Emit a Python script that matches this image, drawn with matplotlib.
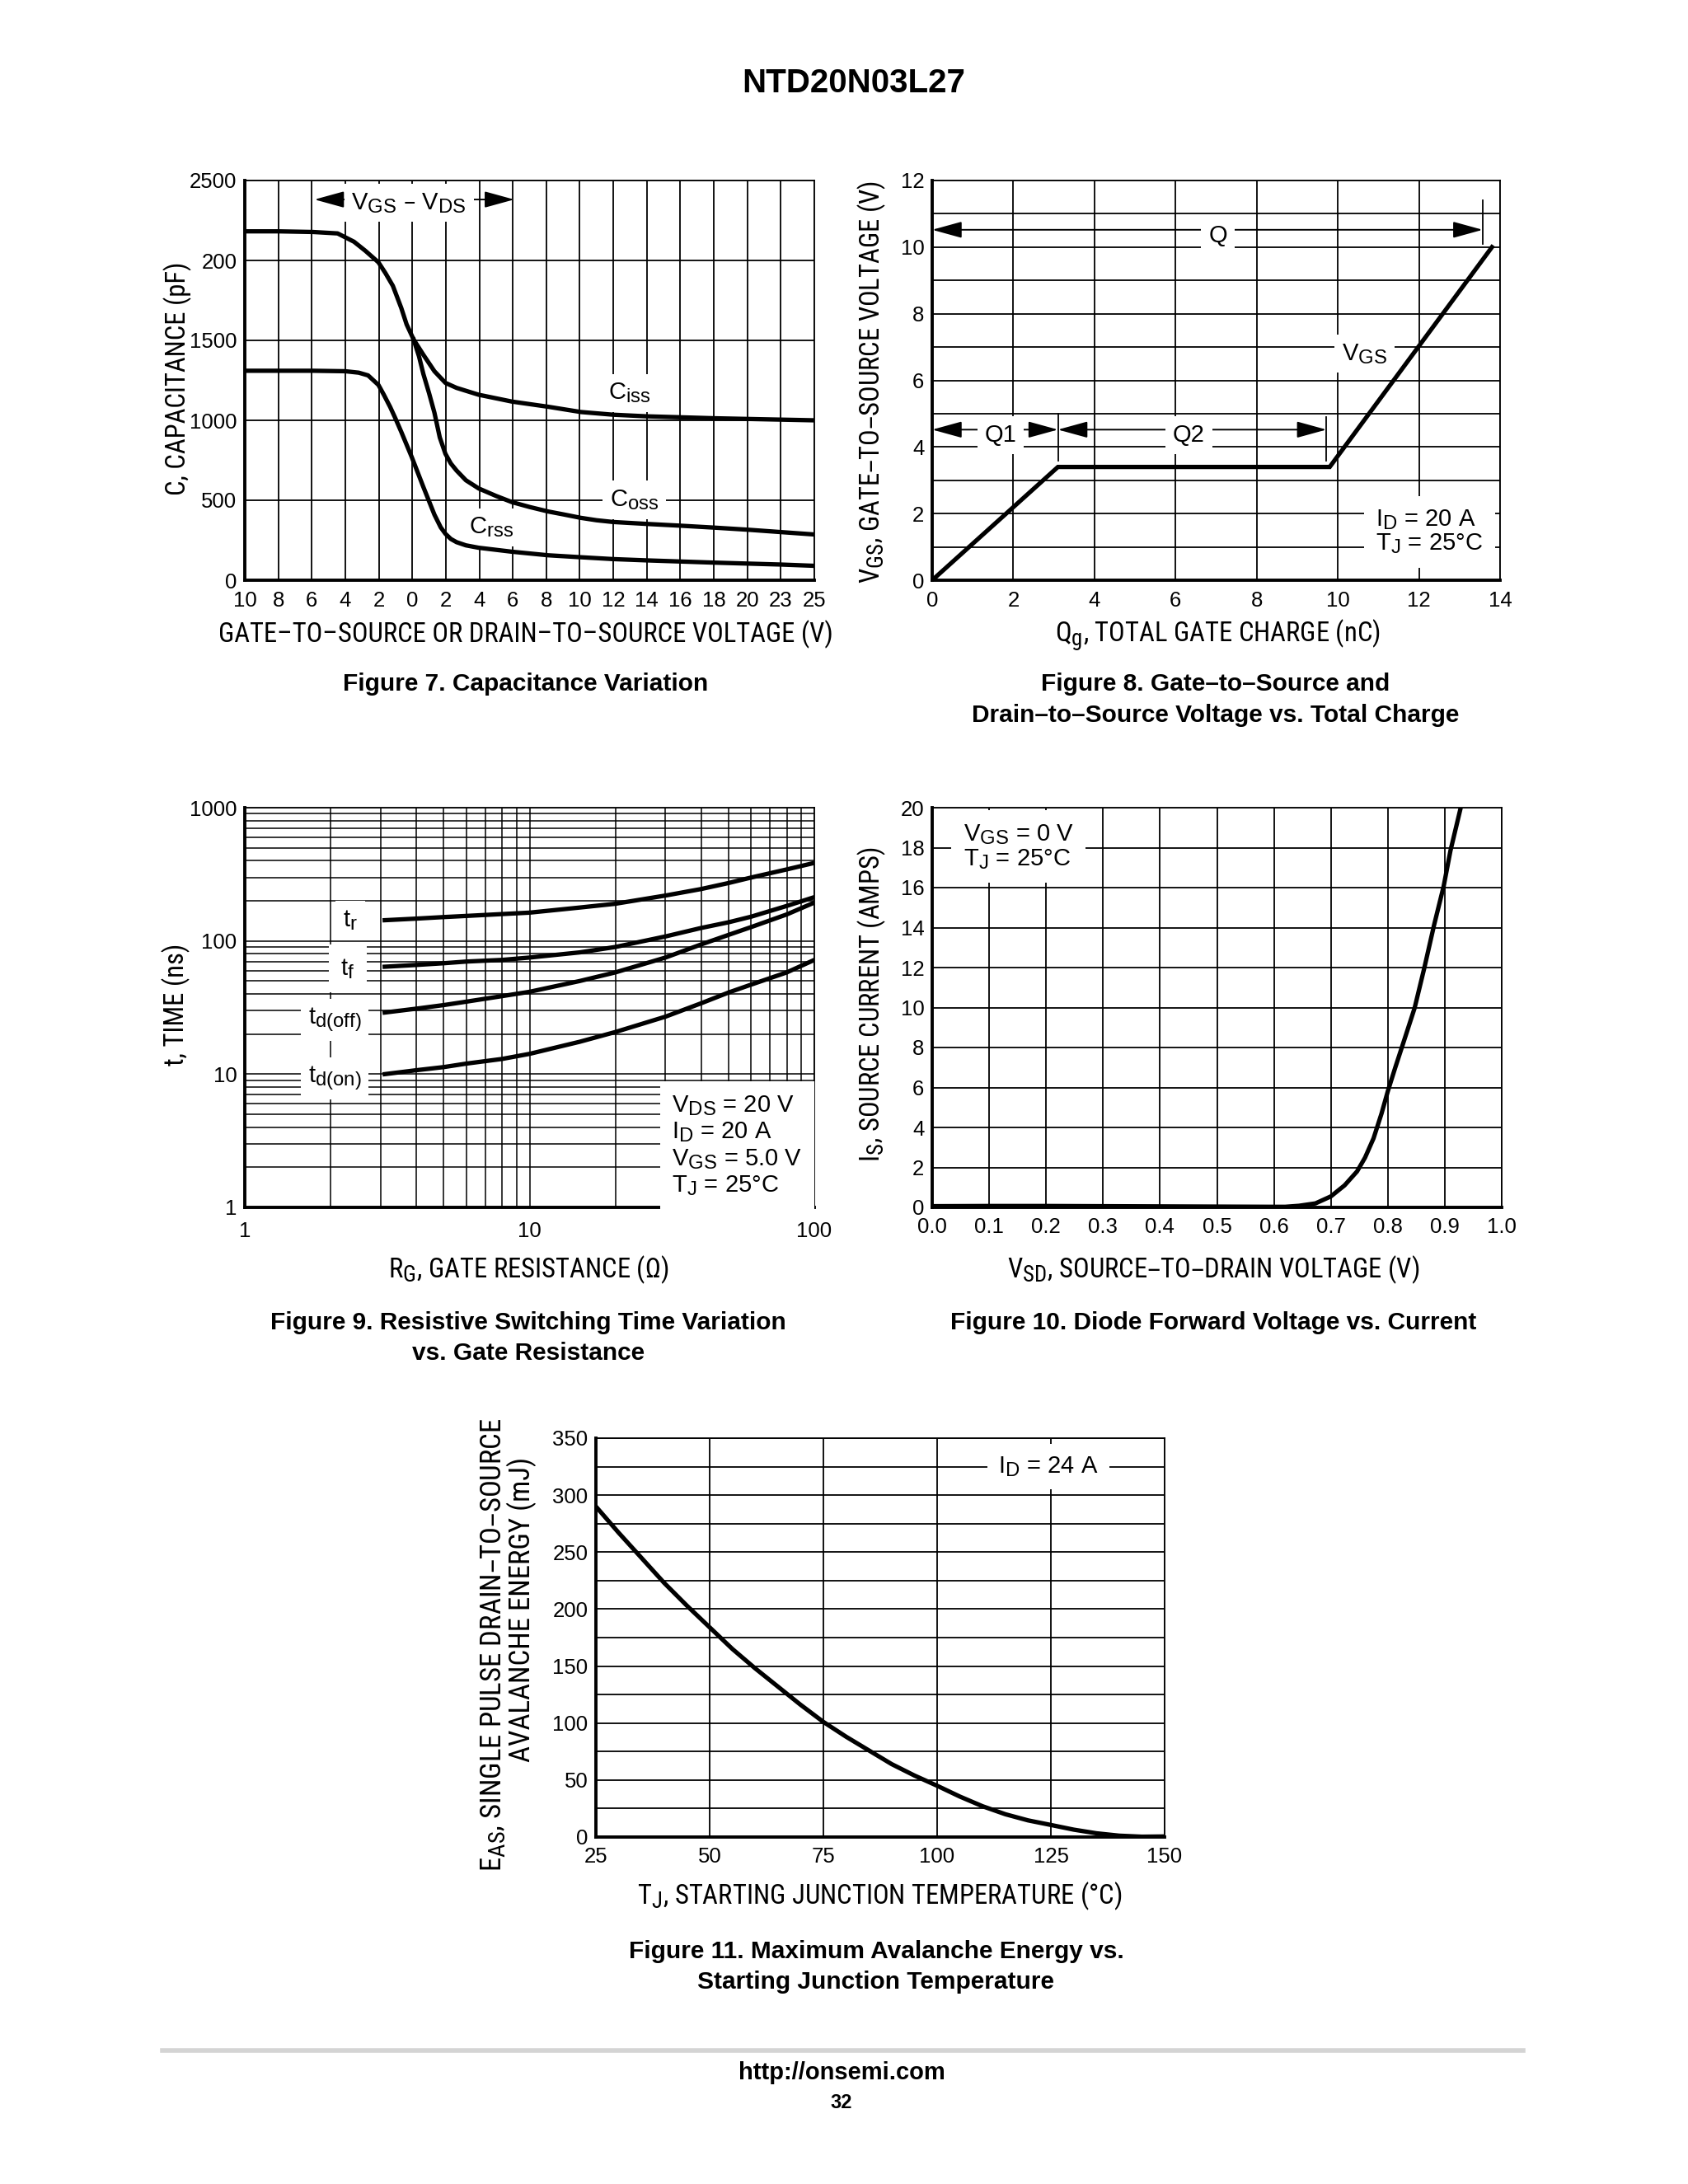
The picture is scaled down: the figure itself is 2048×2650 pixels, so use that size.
import numpy as np
import matplotlib
matplotlib.use('Agg')
from matplotlib import pyplot as plt
from matplotlib.ticker import NullFormatter
import matplotlib._mathtext as mathtext_internal

# datasheet subscripts are only a little smaller than the base letters
mathtext_internal.SHRINK_FACTOR = 0.82

plt.rcParams['font.family'] = ['Liberation Sans', 'DejaVu Sans']
plt.rcParams['mathtext.default'] = 'regular'

W, H = 2048, 2650
TICK = 18.5
LABEL = 23.5
NOTE = 21
CURVE_LW = 3.8
GRID_LW = 1.3
NARROW = ['Roboto Condensed', 'Liberation Sans Narrow', 'Liberation Sans']

# Figure 7 - capacitance variation (x axis is a position index with custom labels)
cap_xlabels = ['10', '8', '6', '4', '2', '0', '2', '4', '6', '8', '10', '12', '14', '16', '18', '20', '23', '25']
cap_yticks = [0, 500, 1000, 1500, 2000, 2500]
cap_ylabels = ['0', '500', '1000', '1500', '200', '2500']
ciss_pos = [0, 1, 2.03, 2.77, 3.26, 3.6, 3.99, 4.2, 4.42, 4.67, 4.83, 5.04, 5.33, 5.66, 5.99, 6.32, 6.98, 7.98, 9.05, 10.03, 11.0, 12.0, 14.0, 17.0]
ciss_pf = [2182, 2182, 2178, 2169, 2117, 2060, 1988, 1920, 1841, 1703, 1600, 1505, 1410, 1307, 1234, 1203, 1160, 1117, 1085, 1052, 1035, 1025, 1013, 1000]
coss_pos = [5.04, 5.2, 5.33, 5.5, 5.66, 5.82, 5.99, 6.15, 6.32, 6.6, 6.98, 7.5, 7.98, 8.5, 9.05, 9.5, 10.03, 10.5, 11.0, 12.0, 13.0, 14.0, 15.0, 16.0, 17.0]
coss_pf = [1505, 1400, 1290, 1170, 1048, 893, 790, 730, 686, 625, 574, 527, 488, 458, 430, 412, 390, 375, 364, 352, 341, 329, 316, 301, 286]
crss_pos = [0, 1, 2.03, 3.0, 3.4, 3.68, 3.99, 4.15, 4.34, 4.5, 4.67, 4.98, 5.33, 5.66, 5.85, 5.99, 6.15, 6.32, 6.6, 6.98, 7.98, 9.05, 10.0, 11.0, 12.0, 14.0, 16.0, 17.0]
crss_pf = [1310, 1310, 1310, 1307, 1298, 1281, 1221, 1160, 1083, 1010, 928, 772, 583, 410, 330, 290, 258, 238, 218, 203, 178, 156, 144, 132, 124, 110, 98, 90]

# Figure 8 - gate charge
qg_nc = [0, 3.1, 9.8, 13.8]
vgs_v = [0, 3.4, 3.4, 10]
q_marks = [3.1, 9.72, 13.57]

# Figure 9 - switching times vs gate resistance
rg_ohm = [3.1, 4, 5, 6, 8, 10, 15, 20, 30, 40, 50, 60, 80, 100]
tr_ns = [143, 147, 151, 154, 159, 163, 178, 190, 219, 245, 272, 299, 344, 385]
tf_ns = [64, 66, 68, 70, 72, 75, 82, 90, 108, 125, 138, 152, 183, 213]
tdoff_ns = [29, 31, 33, 35, 38.5, 41.5, 50, 58, 75, 94, 111, 127, 158, 194]
tdon_ns = [10, 10.7, 11.3, 12, 13, 14.2, 17.5, 20.7, 27, 34, 41, 47, 58, 72]

# Figure 10 - diode forward voltage
vsd_v = [0.0, 0.1, 0.2, 0.3, 0.4, 0.5, 0.6, 0.62, 0.644, 0.673, 0.7, 0.724, 0.746, 0.76, 0.775, 0.789, 0.8, 0.813, 0.828, 0.847, 0.864, 0.881, 0.898, 0.91, 0.928]
is_a = [0.06, 0.07, 0.07, 0.06, 0.05, 0.04, 0.03, 0.03, 0.08, 0.2, 0.55, 1.1, 1.8, 2.49, 3.46, 4.7, 5.81, 6.99, 8.3, 9.97, 11.97, 14.1, 16.06, 17.85, 20.0]

# Figure 11 - avalanche energy
tj_c = [25, 30, 35, 40, 45, 50, 55, 60, 65, 70, 75, 80, 85, 90, 95, 100, 105, 110, 115, 120, 125, 130, 135, 140, 145, 150]
eas_mj = [290, 267, 245, 223, 203, 184, 165, 148, 132, 116, 101, 88, 76, 64, 54, 45, 35.5, 27, 20, 14.6, 10.6, 6.5, 3.3, 1.2, 0.3, 0.5]

fig = plt.figure(figsize=(W / 100, H / 100), dpi=100)


def add_box(x0, y0, x1, y1):
    return fig.add_axes([x0 / W, 1 - y1 / H, (x1 - x0) / W, (y1 - y0) / H])


def put(x, y, s, **kw):
    fig.text(x / W, 1 - y / H, s, **kw)


def axis_label(x, y, s, rotation=0, size=LABEL):
    put(x, y, s, fontsize=size, family=NARROW, ha='center', va='center', rotation=rotation)


def style(ax):
    for side in ['top', 'right']:
        ax.spines[side].set_linewidth(1.3)
    for side in ['left', 'bottom']:
        ax.spines[side].set_linewidth(2.8)
    ax.tick_params(which='both', length=0, labelsize=TICK, pad=7)
    ax.tick_params(axis='x', pad=9)
    ax.set_axisbelow(True)


def curve(ax, x, y):
    ax.plot(x, y, color='black', lw=CURVE_LW, zorder=4)


white = dict(boxstyle='square,pad=0.3', facecolor='white', edgecolor='none')
wide_white = dict(boxstyle='square,pad=0.5', facecolor='white', edgecolor='none')
arrow = dict(arrowstyle='<|-|>,head_length=0.8,head_width=0.22', mutation_scale=28,
             lw=1.4, color='black', shrinkA=0, shrinkB=0)

# ---- Figure 7
ax = add_box(297, 219, 988, 704)
style(ax)
ax.set_xlim(0, 17)
ax.set_ylim(0, 2500)
ax.set_xticks(range(len(cap_xlabels)), cap_xlabels)
ax.set_yticks(cap_yticks, cap_ylabels)
ax.grid(True, color='black', lw=GRID_LW)
curve(ax, ciss_pos, ciss_pf)
curve(ax, coss_pos, coss_pf)
curve(ax, crss_pos, crss_pf)
ax.annotate('', xy=(2.08, 2381), xytext=(8.04, 2381), arrowprops=arrow)
ax.text(4.9, 2360, 'V$_{GS}$ – V$_{DS}$', fontsize=NOTE, ha='center', va='center', bbox=white)
ax.text(11.49, 1170, 'C$_{iss}$', fontsize=NOTE, ha='center', va='center', bbox=white)
ax.text(11.62, 502, 'C$_{oss}$', fontsize=NOTE, ha='center', va='center', bbox=white)
ax.text(7.37, 331, 'C$_{rss}$', fontsize=NOTE, ha='center', va='center', bbox=white)
axis_label(638, 770, 'GATE–TO–SOURCE OR DRAIN–TO–SOURCE VOLTAGE (V)')
axis_label(216, 459, 'C, CAPACITANCE (pF)', rotation=90)

# ---- Figure 8
ax = add_box(1131, 219, 1820, 704)
style(ax)
ax.set_xlim(0, 14)
ax.set_ylim(0, 12)
ax.set_xticks(range(0, 15, 2))
ax.set_yticks(range(0, 13, 2))
ax.set_yticks(range(1, 12, 2), minor=True)
ax.grid(True, which='major', color='black', lw=GRID_LW)
ax.grid(True, which='minor', axis='y', color='black', lw=GRID_LW)
ax.plot(qg_nc, vgs_v, color='black', lw=CURVE_LW, solid_joinstyle='miter', zorder=4)
ax.annotate('', xy=(0, 10.52), xytext=(q_marks[2], 10.52), arrowprops=arrow)
ax.annotate('', xy=(0, 4.52), xytext=(q_marks[0], 4.52), arrowprops=arrow)
ax.annotate('', xy=(q_marks[0], 4.52), xytext=(q_marks[1], 4.52), arrowprops=arrow)
ax.plot([q_marks[2], q_marks[2]], [10.1, 11.4], color='black', lw=1.3)
ax.plot([q_marks[0], q_marks[0]], [3.6, 5.0], color='black', lw=1.3)
ax.plot([q_marks[1], q_marks[1]], [3.6, 4.9], color='black', lw=1.3)
ax.text(7.04, 10.35, 'Q', fontsize=NOTE, ha='center', va='center', bbox=white)
ax.text(1.69, 4.35, 'Q1', fontsize=NOTE, ha='center', va='center', bbox=white)
ax.text(6.33, 4.35, 'Q2', fontsize=NOTE, ha='center', va='center', bbox=white)
ax.text(10.66, 6.8, 'V$_{GS}$', fontsize=NOTE, ha='center', va='center', bbox=white)
ax.text(10.94, 1.45, 'I$_D$ = 20 A\nT$_J$ = 25°C', fontsize=NOTE, ha='left', va='center',
        linespacing=1.0, bbox=wide_white)
axis_label(1477, 771, 'Q$_g$, TOTAL GATE CHARGE (nC)')
axis_label(1058, 464, 'V$_{GS}$, GATE–TO–SOURCE VOLTAGE (V)', rotation=90)

# ---- Figure 9
ax = add_box(297, 980, 988, 1465)
style(ax)
ax.set_xscale('log')
ax.set_yscale('log')
ax.set_xlim(1, 100)
ax.set_ylim(1, 1000)
ax.set_xticks([1, 10, 100], ['1', '10', '100'])
ax.set_yticks([1, 10, 100, 1000], ['1', '10', '100', '1000'])
ax.xaxis.set_minor_formatter(NullFormatter())
ax.yaxis.set_minor_formatter(NullFormatter())
ax.grid(True, which='both', color='black', lw=1.1)
ax.tick_params(axis='x', pad=12)
for series in [tr_ns, tf_ns, tdoff_ns, tdon_ns]:
    curve(ax, rg_ohm, series)
ax.text(2.35, 143, 't$_r$', fontsize=NOTE, ha='center', va='center', bbox=white)
ax.text(2.3, 62, 't$_f$', fontsize=NOTE, ha='center', va='center', bbox=wide_white)
ax.text(2.07, 25.6, 't$_{d(off)}$', fontsize=NOTE, ha='center', va='center', bbox=white)
ax.text(2.07, 9.3, 't$_{d(on)}$', fontsize=NOTE, ha='center', va='center', bbox=white)
ax.text(31.6, 2.9, 'V$_{DS}$ = 20 V\nI$_D$ = 20 A\nV$_{GS}$ = 5.0 V\nT$_J$ = 25°C', fontsize=NOTE,
        ha='left', va='center', linespacing=1.17, bbox=wide_white)
axis_label(641, 1541, 'R$_G$, GATE RESISTANCE (Ω)')
axis_label(214, 1219, 't, TIME (ns)', rotation=90)

# ---- Figure 10
ax = add_box(1131, 980, 1822, 1465)
style(ax)
ax.set_xlim(0, 1.0)
ax.set_ylim(0, 20)
xt = np.round(np.arange(0, 1.01, 0.1), 1)
ax.set_xticks(xt, [f'{v:.1f}' for v in xt])
ax.set_yticks(range(0, 21, 2))
ax.grid(True, color='black', lw=GRID_LW)
curve(ax, vsd_v, is_a)
ax.text(0.055, 18.05, 'V$_{GS}$ = 0 V\nT$_J$ = 25°C', fontsize=NOTE, ha='left', va='center',
        linespacing=1.05, bbox=wide_white)
axis_label(1472, 1541, 'V$_{SD}$, SOURCE–TO–DRAIN VOLTAGE (V)')
axis_label(1058, 1219, 'I$_S$, SOURCE CURRENT (AMPS)', rotation=90)

# ---- Figure 11
ax = add_box(723, 1745, 1413, 2229)
style(ax)
ax.set_xlim(25, 150)
ax.set_ylim(0, 350)
ax.set_xticks(range(25, 151, 25))
ax.set_yticks(range(0, 351, 50))
ax.set_yticks(range(25, 350, 50), minor=True)
ax.grid(True, which='major', color='black', lw=GRID_LW)
ax.grid(True, which='minor', axis='y', color='black', lw=GRID_LW)
curve(ax, tj_c, eas_mj)
ax.text(124.5, 325, 'I$_D$ = 24 A', fontsize=NOTE, ha='center', va='center',
        bbox=dict(boxstyle='square,pad=0.45', facecolor='white', edgecolor='none'))
axis_label(1067, 2301, 'T$_J$, STARTING JUNCTION TEMPERATURE (°C)')
axis_label(599, 1996, 'E$_{AS}$, SINGLE PULSE DRAIN–TO–SOURCE', rotation=90, size=25)
axis_label(633, 1953, 'AVALANCHE ENERGY (mJ)', rotation=90, size=25)

# ---- page text
bold = dict(family=['Liberation Sans', 'DejaVu Sans'], fontweight='bold', ha='center', va='center')
put(1036, 101, 'NTD20N03L27', fontsize=29, **bold)
put(638, 830, 'Figure 7. Capacitance Variation', fontsize=21.5, **bold)
put(1475, 830, 'Figure 8. Gate–to–Source and', fontsize=21.5, **bold)
put(1475, 868, 'Drain–to–Source Voltage vs. Total Charge', fontsize=21.5, **bold)
put(641, 1605, 'Figure 9. Resistive Switching Time Variation', fontsize=21.5, **bold)
put(641, 1642, 'vs. Gate Resistance', fontsize=21.5, **bold)
put(1472, 1605, 'Figure 10. Diode Forward Voltage vs. Current', fontsize=21.5, **bold)
put(1063, 2368, 'Figure 11. Maximum Avalanche Energy vs.', fontsize=21.5, **bold)
put(1063, 2405, 'Starting Junction Temperature', fontsize=21.5, **bold)
fig.add_artist(plt.Line2D([197 / W, 1848 / W], [1 - 2488 / H, 1 - 2488 / H], color='#d4d4d4', lw=4))
put(1021, 2515, 'http://onsemi.com', fontsize=21, **bold)
put(1021, 2551, '32', fontsize=17, **bold)

fig.savefig('out.png', dpi=100, facecolor='white')
